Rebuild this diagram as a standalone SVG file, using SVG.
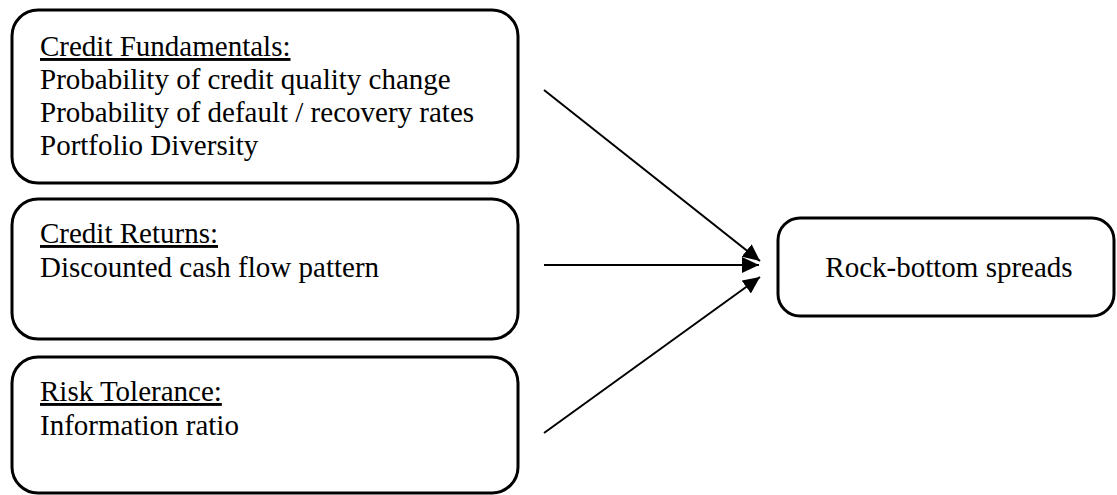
<svg xmlns="http://www.w3.org/2000/svg" width="1117" height="495" viewBox="0 0 1117 495">
  <style>
    .box { fill: #ffffff; stroke: #000000; stroke-width: 3; }
    .t { font-family: "Liberation Serif", "Times New Roman", serif; font-size: 29px; fill: #000000; }
    .u { text-decoration: underline; }
    .conn { stroke: #000000; stroke-width: 2; fill: none; }
  </style>
  <defs>
    <marker id="arrow" markerUnits="userSpaceOnUse" markerWidth="18" markerHeight="16" refX="17" refY="8" orient="auto">
      <path d="M0,0 L17,8 L0,16 Z" fill="#000000"/>
    </marker>
  </defs>
  <rect width="1117" height="495" fill="#ffffff"/>
  <g id="node-credit-fundamentals">
    <rect class="box" x="12" y="10" width="506" height="173" rx="26" ry="26"/>
    <text class="t" x="40" y="56"><tspan class="u">Credit Fundamentals:</tspan></text>
    <text class="t" x="40" y="89">Probability of credit quality change</text>
    <text class="t" x="40" y="122">Probability of default / recovery rates</text>
    <text class="t" x="40" y="155">Portfolio Diversity</text>
  </g>
  <g id="node-credit-returns">
    <rect class="box" x="12" y="199" width="506" height="140" rx="26" ry="26"/>
    <text class="t" x="40" y="243"><tspan class="u">Credit Returns:</tspan></text>
    <text class="t" x="40" y="277">Discounted cash flow pattern</text>
  </g>
  <g id="node-risk-tolerance">
    <rect class="box" x="12" y="357" width="506" height="136" rx="26" ry="26"/>
    <text class="t" x="40" y="401"><tspan class="u">Risk Tolerance:</tspan></text>
    <text class="t" x="40" y="435">Information ratio</text>
  </g>
  <g id="node-rock-bottom">
    <rect class="box" x="778" y="218" width="336" height="98" rx="22" ry="22"/>
    <text class="t" x="949" y="277" text-anchor="middle">Rock-bottom spreads</text>
  </g>
  <g id="connectors">
    <line class="conn" x1="544" y1="90" x2="760" y2="261" marker-end="url(#arrow)"/>
    <line class="conn" x1="544" y1="265" x2="759" y2="265" marker-end="url(#arrow)"/>
    <line class="conn" x1="544" y1="433" x2="760" y2="277" marker-end="url(#arrow)"/>
  </g>
</svg>
